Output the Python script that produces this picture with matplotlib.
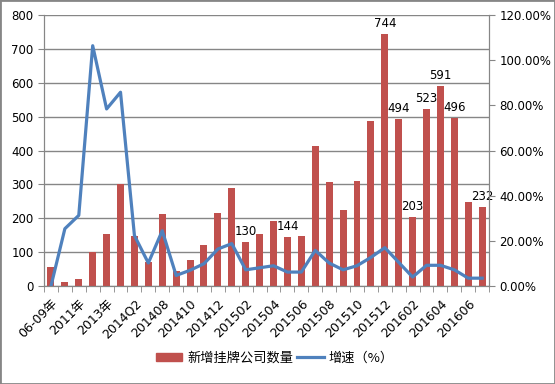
import matplotlib
matplotlib.use("Agg")
import matplotlib.pyplot as plt
import matplotlib.patches as mpatches
from matplotlib.ticker import FuncFormatter, FixedLocator
import numpy as np

plt.rcParams['font.family'] = ['DejaVu Sans', 'Noto Sans CJK SC']

categories = ["06-09年", "2010年", "2011年", "2012年", "2013年", "2014Q1", "2014Q2",
              "201407", "201408", "201409", "201410", "201411", "201412",
              "201501", "201502", "201503", "201504", "201505", "201506",
              "201507", "201508", "201509", "201510", "201511", "201512",
              "201601", "201602", "201603", "201604", "201605", "201606", "201607"]
new_listings = [57, 12, 22, 100, 154, 302, 149, 72, 214, 45, 78, 121, 217, 290,
                130, 154, 193, 144, 148, 414, 308, 224, 310, 488, 744, 494, 203,
                523, 591, 496, 249, 232]
growth = [0.0, 25.4, 31.3, 106.4, 78.4, 85.8, 22.4, 10.2, 24.5, 4.7, 7.0, 9.9,
          16.4, 18.8, 7.2, 8.1, 9.0, 6.2, 6.2, 15.8, 10.2, 7.2, 9.0, 12.7, 17.0,
          10.5, 4.0, 9.2, 9.2, 7.2, 3.5, 3.5]
labeled = {14: "130", 17: "144", 24: "744", 25: "494", 26: "203",
           27: "523", 28: "591", 29: "496", 31: "232"}

bar_color = "#C0504D"
line_color = "#4F81BD"
grid_color = "#868686"

fig = plt.figure(figsize=(5.55, 3.84), dpi=100)
ax = fig.add_axes([0.0793, 0.255, 0.802, 0.706])
x = np.arange(len(categories))
bars = ax.bar(x, new_listings, width=0.5, color=bar_color, zorder=2,
              label="新增挂牌公司数量")
ax.set_xlim(-0.5, len(categories) - 0.5)
ax.set_ylim(0, 800)
ax.set_yticks(range(0, 801, 100))
ax.yaxis.grid(True, color=grid_color, linewidth=1)
ax.set_axisbelow(True)
for i, txt in labeled.items():
    ax.annotate(txt, (x[i], new_listings[i]), xytext=(0, 3),
                textcoords="offset points", ha="center", va="bottom",
                fontsize=8.5, color="black", zorder=5)

ax.set_xticks(x[::2])
ax.set_xticklabels(categories[::2], rotation=45, ha="right",
                   rotation_mode="anchor", fontsize=9)
ax.xaxis.set_minor_locator(FixedLocator(np.arange(-0.5, len(categories), 1)))
ax.tick_params(axis="x", which="major", length=0, pad=8)
ax.tick_params(axis="x", which="minor", length=4, color=grid_color, direction="out")
ax.tick_params(axis="y", length=4, color=grid_color, labelsize=8.5)
for s in ["left", "right", "bottom"]:
    ax.spines[s].set_color(grid_color)
ax.spines["top"].set_visible(False)

ax2 = ax.twinx()
ax2.plot(x, growth, color=line_color, linewidth=2.3, zorder=3, label="增速（%）")
ax2.set_ylim(0, 120)
ax2.set_yticks(range(0, 121, 20))
ax2.yaxis.set_major_formatter(FuncFormatter(lambda v, p: f"{v:.2f}%"))
ax2.tick_params(axis="y", length=4, color=grid_color, labelsize=8.5)
for s in ["left", "right", "bottom"]:
    ax2.spines[s].set_color(grid_color)
ax2.spines["top"].set_visible(False)

handles = [mpatches.Patch(color=bar_color), plt.Line2D([], [], color=line_color, linewidth=2.3)]
fig.legend(handles, ["新增挂牌公司数量", "增速（%）"], loc="center",
           bbox_to_anchor=(0.495, 0.068), ncol=2, frameon=False,
           prop={"family": ["Noto Sans CJK SC"], "size": 9.5},
           handlelength=2.0, handleheight=0.6, columnspacing=0.3, handletextpad=0.4)

fig.add_artist(mpatches.Rectangle((0, 0), 1, 1, transform=fig.transFigure,
                                  fill=False, edgecolor=grid_color, linewidth=2))
fig.savefig("out.png", dpi=100)
